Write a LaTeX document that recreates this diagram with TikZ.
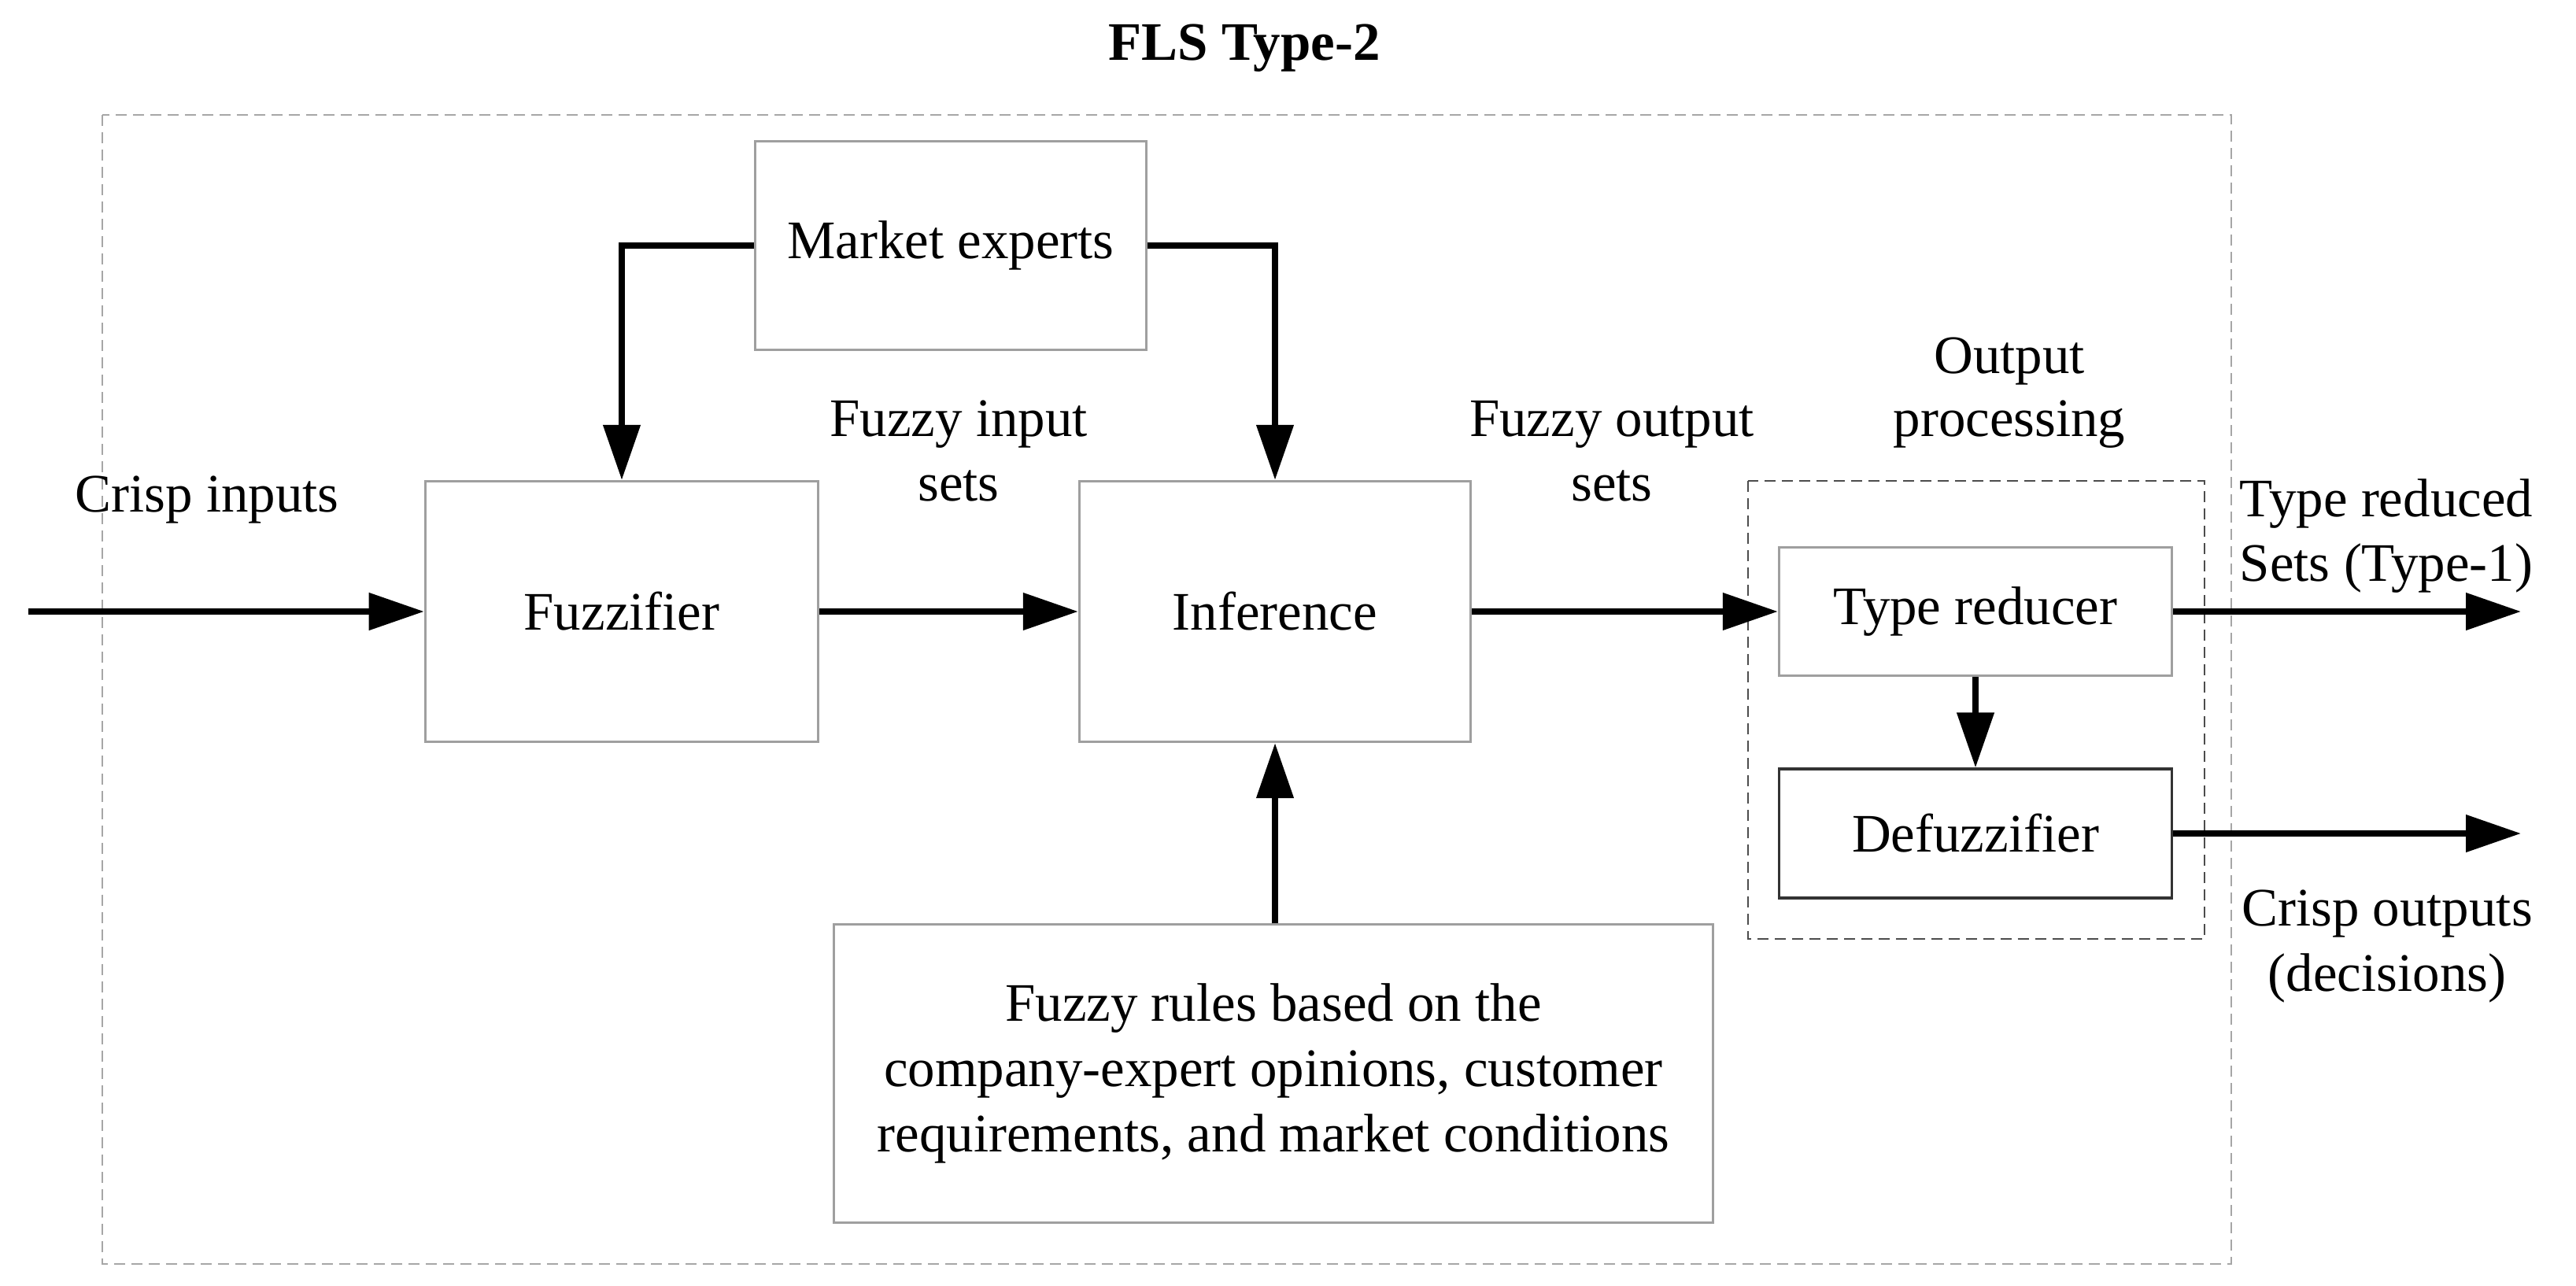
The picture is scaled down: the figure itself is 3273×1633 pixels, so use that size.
\documentclass[tikz,border=0pt]{standalone}
\usepackage{fontspec}
\setmainfont{Liberation Serif}
\usetikzlibrary{arrows.meta}
\begin{document}
\begin{tikzpicture}[x=0.01cm,y=-0.01cm,
  every node/.style={font=\fontsize{19.6pt}{23.6pt}\selectfont},
  blk/.style={draw=gray!75, line width=0.9pt, inner sep=0pt, align=center},
  lbl/.style={inner sep=0pt, align=center},
  arr/.style={line width=2.2pt, -{Triangle[length=0.7cm,width=0.46cm]}},
  outerdash/.style={draw=gray!70, line width=0.6pt, dash pattern=on 0.14cm off 0.08cm},
  innerdash/.style={draw=black!70, line width=0.6pt, dash pattern=on 0.14cm off 0.08cm}]
\useasboundingbox (0,0) rectangle (3273,1633);
\fill[white] (0,0) rectangle (3273,1633);

% title
\node[lbl, anchor=base, font=\fontsize{19.6pt}{23.6pt}\selectfont\bfseries] (title) at (1581,76) {FLS Type-2};

% dashed frames
\draw[outerdash] (130,146) rectangle (2835,1606);
\draw[innerdash] (2221,611) rectangle (2801,1193);

% blocks
\node[blk, minimum width=4.96cm, minimum height=2.65cm] (mkt) at (1208,312) {Market experts};
\node[blk, minimum width=4.99cm, minimum height=3.31cm] (fuzz) at (790,777) {Fuzzifier};
\node[blk, minimum width=4.97cm, minimum height=3.31cm] (inf) at (1620,777) {Inference};
\node[blk, minimum width=11.17cm, minimum height=3.78cm] (rules) at (1618,1364)
  {Fuzzy rules based on the\\company-expert opinions, customer\\requirements, and market conditions};
\node[blk, minimum width=4.99cm, minimum height=1.63cm] (tr) at (2510,777) {Type reducer};
\node[blk, draw=black!80, minimum width=4.99cm, minimum height=1.64cm] (defz) at (2510,1059) {Defuzzifier};

% labels
\node[lbl, anchor=base] (lcin) at (263,650) {Crisp inputs};
\node[lbl, anchor=base] (lfis1) at (1218,554) {Fuzzy input};
\node[lbl, anchor=base] (lfis2) at (1218,636) {sets};
\node[lbl, anchor=base] (lfos1) at (2048,554) {Fuzzy output};
\node[lbl, anchor=base] (lfos2) at (2048,636) {sets};
\node[lbl, anchor=base] (lop1) at (2553,474) {Output};
\node[lbl, anchor=base] (lop2) at (2553,554) {processing};
\node[lbl, anchor=base] (ltr1) at (3032,656) {Type reduced};
\node[lbl, anchor=base] (ltr2) at (3032,738) {Sets (Type-1)};
\node[lbl, anchor=base] (lco1) at (3033,1176) {Crisp outputs};
\node[lbl, anchor=base] (lco2) at (3033,1259) {(decisions)};

% free ends
\coordinate (cin) at (36,777);
\coordinate (out1) at (3203,777);
\coordinate (out2) at (3203,1059);

% connectors
\draw[arr] (cin) -- (fuzz.west);
\draw[arr] (fuzz.east) -- (inf.west);
\draw[arr] (inf.east) -- (tr.west);
\draw[arr] (mkt.west) -| (fuzz.north);
\draw[arr] (mkt.east) -| (inf.north);
\draw[arr] (inf.south |- rules.north) -- (inf.south);
\draw[arr] (tr.south) -- (defz.north);
\draw[arr] (tr.east) -- (out1);
\draw[arr] (defz.east) -- (out2);
\end{tikzpicture}
\end{document}
